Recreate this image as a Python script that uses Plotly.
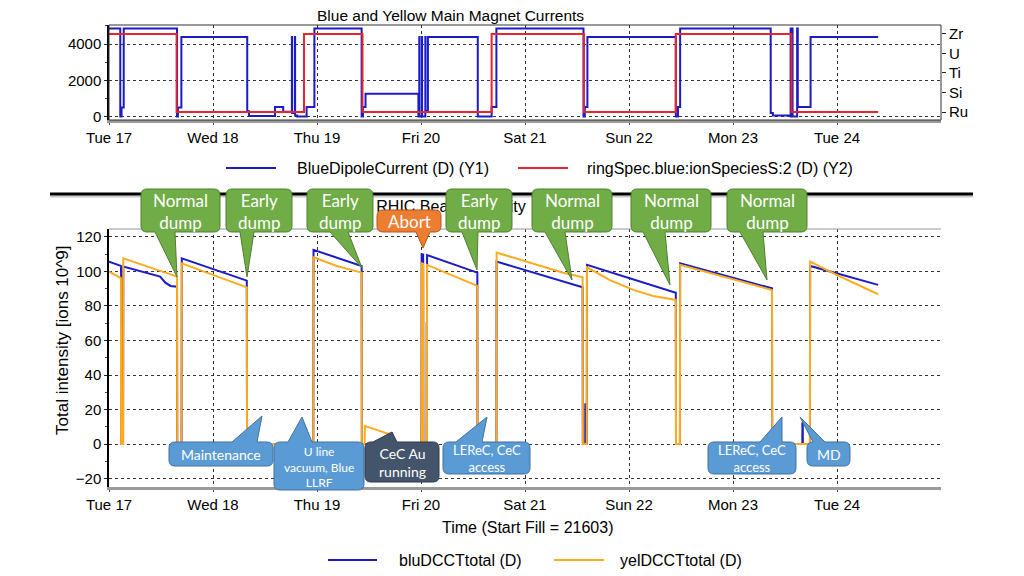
import pandas as pd
import plotly.graph_objects as go

# page is 1024x576; the browser adds an 8px body margin, so the figure is 8px smaller
PAGE_W, PAGE_H, OFF = 1024, 576, 8
W, H = PAGE_W - OFF, PAGE_H - OFF
START = pd.Timestamp("2018-04-17 00:00")
END = pd.Timestamp("2018-04-25 00:00")
day_ticks = pd.date_range(START, periods=8, freq="D")
day_labels = [d.strftime("%a %d") for d in day_ticks]

# ---------------- data (hours since Tue 17 00:00, value) ----------------
# Top panel: BlueDipoleCurrent (A)
dipole_steps = [
    (0, 4850), (2.6, 4850), (2.6, 0), (2.9, 0), (2.9, 490), (3.4, 490), (3.4, 4850),
    (15.7, 4850), (15.7, 0), (15.9, 0), (15.9, 490), (16.7, 490), (16.7, 4380),
    (31.9, 4380), (31.9, 290), (32.3, 290), (32.3, 30), (38.3, 30), (38.3, 530),
    (40.2, 530), (40.2, 260), (42.2, 260), (42.2, 4380), (42.25, 4380), (42.25, 200),
    (42.9, 200), (42.9, 4380), (42.95, 4380), (42.95, 60), (43.4, 60), (43.4, 0),
    (45.6, 0), (45.6, 530), (47.4, 530), (47.4, 4850),
    (58.3, 4850), (58.3, 0), (58.6, 0), (58.6, 530), (59.2, 530), (59.2, 1260),
    (71.4, 1260), (71.4, 0), (71.6, 0), (71.6, 4380), (71.65, 4380), (71.65, 0),
    (72.2, 0), (72.2, 4380), (72.25, 4380), (72.25, 0), (73.0, 0), (73.0, 4380),
    (73.05, 4380), (73.05, 300), (73.6, 300), (73.6, 4380),
    (85.1, 4380), (85.1, 0), (88.3, 0), (88.3, 530), (89.4, 530), (89.4, 4850),
    (109.5, 4850), (109.5, 0), (109.8, 0), (109.8, 530), (110.4, 530), (110.4, 4380),
    (130.8, 4380), (130.8, 0), (131.3, 0), (131.3, 530), (131.8, 530), (131.8, 4850),
    (152.7, 4850), (152.7, 200), (153.2, 200), (153.2, 50), (157.3, 50), (157.3, 4850),
    (157.35, 4850), (157.35, 0), (157.7, 0), (157.7, 4850), (157.75, 4850), (157.75, 0),
    (158.8, 0), (158.8, 4850), (158.95, 4850), (158.95, 530), (161.9, 530), (161.9, 4380),
    (177.5, 4380),
]
# Top panel: ringSpec.blue:ionSpeciesS:2 (index into species_labels)
species_labels = ["Ru", "Si", "Ti", "U", "Zr"]
species_steps = [
    (0, 4), (15.6, 4), (15.6, 0), (45.0, 0), (45.0, 4), (58.5, 4), (58.5, 0),
    (88.3, 0), (88.3, 4), (109.6, 4), (109.6, 0), (130.8, 0), (130.8, 4),
    (157.5, 4), (157.5, 0), (177.5, 0),
]
# Bottom panel: total intensity [ions 10^9]
blu_steps = [
    (0, 105.7), (2.75, 103.2), (2.8, 97.0), (2.85, 0), (3.25, 0), (3.3, 102.8),
    (11.8, 97.0), (13.0, 93.5), (14.2, 91.6), (15.7, 91.2), (15.75, 0), (16.75, 0),
    (16.8, 107.6), (31.8, 94.7), (31.85, 0), (47.15, 0), (47.2, 112.5), (58.3, 103.2),
    (58.35, 0), (72.1, 0), (72.15, 110.0), (72.5, 109.8), (72.55, 0), (73.3, 0),
    (73.32, 70), (73.38, 70), (73.4, 109.5), (85.0, 99.3), (85.05, 0), (89.4, 0),
    (89.45, 105.7), (109.3, 90.8), (109.35, 0), (109.9, 0), (109.92, 23), (109.97, 23),
    (110.0, 0), (110.25, 0), (110.3, 103.8), (130.8, 87.7), (130.85, 0), (131.75, 0),
    (131.8, 104.7), (153.0, 90.2), (153.05, 0), (160.0, 0), (160.02, 12), (160.1, 12),
    (160.12, 0), (161.75, 0), (161.8, 103.2), (177.5, 92.2),
]
yel_steps = [
    (0, 99.9), (2.75, 96.1), (2.8, 0), (3.25, 0), (3.3, 107.6), (15.7, 97.0),
    (15.75, 0), (16.75, 0), (16.8, 104.7), (31.8, 90.8), (31.85, 0), (47.15, 0),
    (47.2, 108.2), (52.6, 103.2), (58.3, 99.3), (58.35, 0), (59.0, 0), (59.05, 10.4),
    (59.9, 9.8), (64.1, 6.2), (65.2, 5.8), (65.25, 0), (72.1, 0), (72.15, 104.7),
    (72.5, 104.5), (72.55, 0), (73.35, 0), (73.4, 103.8), (85.0, 91.6), (85.05, 0),
    (89.4, 0), (89.45, 110.9), (104.8, 99.3), (109.3, 96.6), (109.35, 0), (110.25, 0),
    (110.3, 102.4), (115.6, 95.0), (121.0, 89.3), (125.6, 85.8), (130.8, 83.5),
    (130.85, 0), (131.75, 0), (131.8, 103.8), (153.0, 89.3), (153.05, 0), (161.75, 0),
    (161.8, 105.7), (167.9, 98.0), (177.5, 86.8),
]


def split(steps):
    hrs = [s[0] for s in steps]
    vals = [s[1] for s in steps]
    return START + pd.to_timedelta(hrs, unit="h"), vals


BLUE = "#1c1cc4"
RED = "#e8242c"
YEL = "#ffab1c"
FONT = "Liberation Sans, Arial, sans-serif"
CFONT = "Lato, Open Sans, sans-serif"


def PX(x):
    return (x - OFF) / W


def PY(y):
    return 1 - (y - OFF) / H


fig = go.Figure()
sx, sy = split(species_steps)
fig.add_trace(go.Scatter(x=sx, y=sy, mode="lines", line=dict(color=RED, width=2),
                         xaxis="x", yaxis="y2", hoverinfo="skip"))
dx, dy = split(dipole_steps)
fig.add_trace(go.Scatter(x=dx, y=dy, mode="lines", line=dict(color=BLUE, width=2),
                         xaxis="x", yaxis="y", hoverinfo="skip"))
bx, by = split(blu_steps)
fig.add_trace(go.Scatter(x=bx, y=by, mode="lines", line=dict(color=BLUE, width=2),
                         xaxis="x2", yaxis="y3", hoverinfo="skip"))
yx, yy = split(yel_steps)
fig.add_trace(go.Scatter(x=yx, y=yy, mode="lines", line=dict(color=YEL, width=2),
                         xaxis="x2", yaxis="y3", hoverinfo="skip"))
# lower panel title, drawn as a text trace on a hidden strip so callouts can cover it
fig.add_trace(go.Scatter(x=[0.5], y=[0.5], mode="text", text=["RHIC Beam Intensity"],
                         textposition="middle center", cliponaxis=False,
                         textfont=dict(family=FONT, size=16, color="#000"),
                         xaxis="x3", yaxis="y4", hoverinfo="skip"))

xcommon = dict(
    type="date", range=[START, END], tickvals=list(day_ticks), ticktext=day_labels,
    showgrid=True, gridcolor="#333", griddash="dot", gridwidth=1,
    ticks="outside", ticklen=2, tickcolor="#444",
    showline=True, linecolor="#9a9a9a", linewidth=3, automargin=False,
    tickfont=dict(family=FONT, size=15, color="#000"), zeroline=False,
    domain=[PX(109), PX(941)],
)
ycommon = dict(
    showgrid=True, gridcolor="#333", griddash="dot", gridwidth=1,
    ticks="outside", ticklen=3, tickcolor="#222", automargin=False,
    showline=True, linecolor="#000", linewidth=1.5, zeroline=False,
    tickfont=dict(family=FONT, size=15, color="#000"),
)

fig.update_layout(
    width=W, height=H, autosize=False,
    margin=dict(l=0, r=0, t=0, b=0, pad=0, autoexpand=False),
    paper_bgcolor="white", plot_bgcolor="white", showlegend=False,
    xaxis=dict(anchor="y", **xcommon),
    xaxis2=dict(anchor="y3", matches="x", **xcommon),
    xaxis3=dict(anchor="y4", domain=[PX(376), PX(526)], range=[0, 1], visible=False,
                fixedrange=True),
    yaxis=dict(anchor="x", domain=[PY(120), PY(25)], range=[-193, 5048],
               tick0=0, dtick=2000,
               minor=dict(ticks="outside", ticklen=2, dtick=1000, tickcolor="#444", showgrid=False),
               **ycommon),
    yaxis2=dict(anchor="x", overlaying="y", side="right", range=[-0.41, 4.46],
                tickvals=list(range(len(species_labels))), ticktext=species_labels,
                ticks="outside", ticklen=4, tickcolor="#222", showgrid=False,
                showline=False, zeroline=False, automargin=False,
                tickfont=dict(family=FONT, size=15, color="#000")),
    yaxis3=dict(anchor="x2", domain=[PY(487), PY(229)], range=[-24.9, 124.6],
                tick0=0, dtick=20,
                minor=dict(ticks="outside", ticklen=2, dtick=10, tickcolor="#444", showgrid=False),
                **ycommon),
    yaxis4=dict(anchor="x3", domain=[PY(218), PY(198)], range=[0, 1], visible=False,
                fixedrange=True),
)

shapes = []
annotations = []

# frame / separator
shapes.append(dict(type="rect", xref="paper", yref="paper", x0=PX(109), x1=PX(941),
                   y0=PY(120), y1=PY(25), line=dict(color="#333", width=1)))
shapes.append(dict(type="line", xref="paper", yref="paper", x0=PX(109), x1=PX(941),
                   y0=PY(229), y1=PY(229), line=dict(color="#999", width=1)))
shapes.append(dict(type="line", xref="paper", yref="paper", x0=PX(50), x1=PX(973),
                   y0=PY(196.5), y1=PY(196.5), line=dict(color="#c8c8c8", width=2)))
shapes.append(dict(type="line", xref="paper", yref="paper", x0=PX(50), x1=PX(973),
                   y0=PY(194), y1=PY(194), line=dict(color="#000", width=3)))


def text(t, x, y, size=16, anchor="center", angle=0, color="#000", family=FONT):
    annotations.append(dict(text=t, x=PX(x), y=PY(y), xref="paper", yref="paper",
                            showarrow=False, xanchor=anchor, yanchor="middle",
                            textangle=angle,
                            font=dict(family=family, size=size, color=color)))


# titles
text("Blue and Yellow Main Magnet Currents", 450, 16, size=15.5)
text("Time (Start Fill = 21603)", 527, 527)
text("Total intensity [ions 10^9]", 62, 341, size=17, angle=-90)

# legends
for (x0, x1, y, col, label, tx) in [
    (226, 276, 168, BLUE, "BlueDipoleCurrent (D) (Y1)", 295),
    (518, 568, 168, RED, "ringSpec.blue:ionSpeciesS:2 (D) (Y2)", 585),
    (328, 377, 560, BLUE, "bluDCCTtotal (D)", 397),
    (554, 604, 560, YEL, "yelDCCTtotal (D)", 618),
]:
    shapes.append(dict(type="line", xref="paper", yref="paper", x0=PX(x0), x1=PX(x1),
                       y0=PY(y), y1=PY(y), line=dict(color=col, width=2)))
    text(label, tx, y, anchor="left")


def bubble(x0, y0, x1, y1, a, b, tip, side, r=6):
    tx, ty = tip

    def p(x, y):
        return f"{PX(x):.5f},{PY(y):.5f}"

    if side == "bottom":
        d = (f"M{p(x0 + r, y0)} L{p(x1 - r, y0)} Q{p(x1, y0)} {p(x1, y0 + r)} "
             f"L{p(x1, y1 - r)} Q{p(x1, y1)} {p(x1 - r, y1)} "
             f"L{p(b, y1)} L{p(tx, ty)} L{p(a, y1)} "
             f"L{p(x0 + r, y1)} Q{p(x0, y1)} {p(x0, y1 - r)} "
             f"L{p(x0, y0 + r)} Q{p(x0, y0)} {p(x0 + r, y0)} Z")
    else:
        d = (f"M{p(x0 + r, y0)} L{p(a, y0)} L{p(tx, ty)} L{p(b, y0)} "
             f"L{p(x1 - r, y0)} Q{p(x1, y0)} {p(x1, y0 + r)} "
             f"L{p(x1, y1 - r)} Q{p(x1, y1)} {p(x1 - r, y1)} "
             f"L{p(x0 + r, y1)} Q{p(x0, y1)} {p(x0, y1 - r)} "
             f"L{p(x0, y0 + r)} Q{p(x0, y0)} {p(x0 + r, y0)} Z")
    return d


GREEN = ("#70ad47", "#507e32")
ORANGE = ("#ed7d31", "#ae5a21")
LBLUE = ("#5b9bd5", "#41719c")
SLATE = ("#44546a", "#2f3b4b")

callouts = [
    ("Normal<br>dump", (141, 189, 220, 232), (155, 175), (177, 277), "bottom", GREEN, 17),
    ("Early<br>dump", (226, 189, 292, 232), (240, 254), (247, 277), "bottom", GREEN, 17),
    ("Early<br>dump", (307, 189, 373, 232), (330, 348), (362, 268), "bottom", GREEN, 17),
    ("Abort", (377, 210, 441, 232), (416, 430), (423, 248), "bottom", ORANGE, 17),
    ("Early<br>dump", (446, 189, 512, 232), (462, 478), (477, 270), "bottom", GREEN, 17),
    ("Normal<br>dump", (532, 189, 612, 232), (545, 565), (572, 280), "bottom", GREEN, 17),
    ("Normal<br>dump", (631, 189, 711, 232), (643, 665), (670, 285), "bottom", GREEN, 17),
    ("Normal<br>dump", (727, 189, 807, 232), (740, 763), (767, 280), "bottom", GREEN, 17),
    ("Maintenance", (169, 442, 273, 466), (232, 257), (262, 416), "top", LBLUE, 14),
    ("U line<br>vacuum, Blue<br>LLRF", (274, 442, 364, 490), (288, 312), (302, 417), "top", LBLUE, 12),
    ("CeC Au<br>running", (365, 442, 439, 482), (373, 397), (392, 432), "top", SLATE, 14),
    ("LEReC, CeC<br>access", (443, 442, 530, 474), (456, 482), (487, 417), "top", LBLUE, 13),
    ("LEReC, CeC<br>access", (708, 442, 796, 474), (760, 782), (782, 417), "top", LBLUE, 13),
    ("MD", (807, 442, 850, 466), (813, 825), (800, 417), "top", LBLUE, 14),
]
for label, (x0, y0, x1, y1), (a, b), tip, side, (fill, edge), fs in callouts:
    shapes.append(dict(type="path", xref="paper", yref="paper",
                       path=bubble(x0, y0, x1, y1, a, b, tip, side),
                       fillcolor=fill, line=dict(color=edge, width=1), layer="above"))
    text(label, (x0 + x1) / 2, (y0 + y1) / 2 + 0.5, size=fs, color="white", family=CFONT)

fig.update_layout(shapes=shapes, annotations=annotations)
fig.write_html("out.html")
